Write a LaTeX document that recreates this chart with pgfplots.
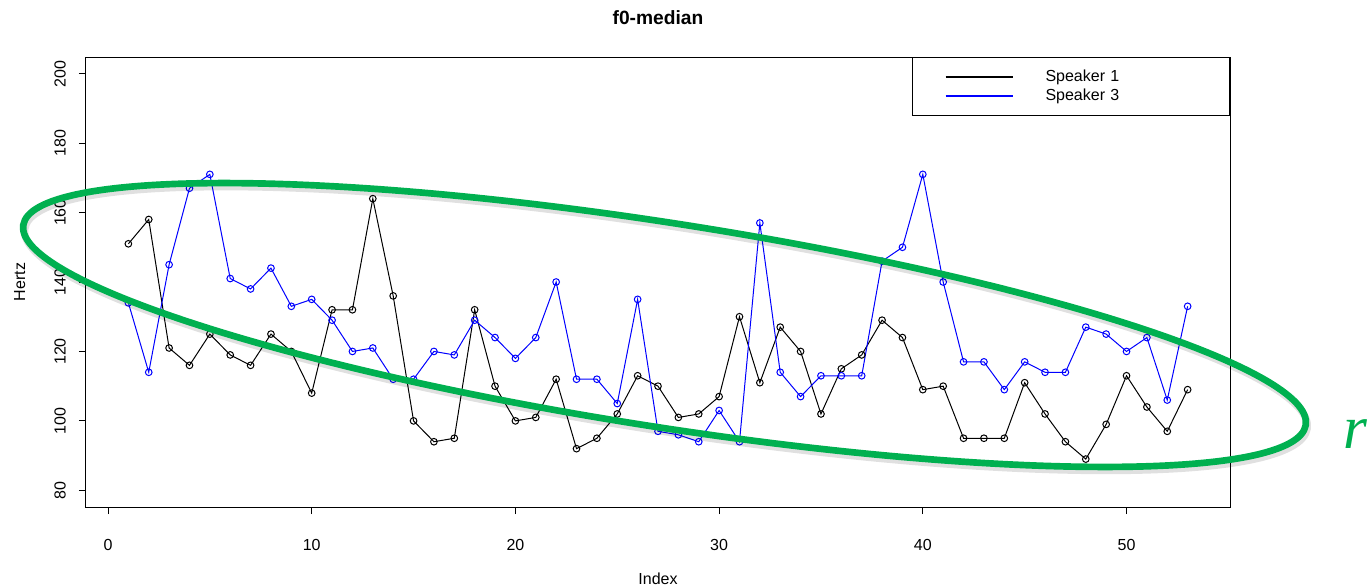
\documentclass[border=0pt]{standalone}
\usepackage{fontspec}
\setmainfont{Liberation Sans}
\newfontfamily\rfont{Liberation Serif}
\usepackage{pgfplots}
\usepackage{pgfplotstable}
\pgfplotsset{compat=1.18}
\definecolor{pptgreen}{RGB}{0,176,80}

\pgfplotstableread{
x s1 s3
1 151 134
2 158 114
3 121 145
4 116 167
5 125 171
6 119 141
7 116 138
8 125 144
9 120 133
10 108 135
11 132 129
12 132 120
13 164 121
14 136 112
15 100 112
16 94 120
17 95 119
18 132 129
19 110 124
20 100 118
21 101 124
22 112 140
23 92 112
24 95 112
25 102 105
26 113 135
27 110 97
28 101 96
29 102 94
30 107 103
31 130 94
32 111 157
33 127 114
34 120 107
35 102 113
36 115 113
37 119 113
38 129 146
39 124 150
40 109 171
41 110 140
42 95 117
43 95 117
44 95 109
45 111 117
46 102 114
47 94 114
48 89 127
49 99 125
50 113 120
51 104 124
52 97 106
53 109 133
}\datatable

\begin{document}
\begin{tikzpicture}
\path[use as bounding box] (0,0) rectangle (1025.25pt,440.25pt);
\begin{axis}[
  at={(64.5pt,60pt)}, anchor=south west,
  scale only axis, width=858pt, height=337.5pt,
  xmin=-1.08, xmax=55.08, ymin=75.2, ymax=204.8,
  xtick={0,10,...,50}, ytick={80,100,...,200},
  tick align=outside, major tick length=5.25pt,
  tick pos=left,
  axis line style={line width=0.75pt},
  every tick/.style={black, line width=0.75pt},
  tick label style={font=\fontsize{12}{14}\selectfont},
  /pgf/number format/assume math mode=true,
  xticklabel style={inner sep=0pt, anchor=north},
  yticklabel style={inner sep=0pt, rotate=90, anchor=south},
  xticklabel shift=18.75pt, yticklabel shift=9.75pt,
  legend style={at={(rel axis cs:1,1)}, anchor=north east, draw=black, fill=white,
    line width=0.75pt, inner xsep=0pt, inner ysep=7.5pt, row sep=0pt,
    font=\fontsize{12}{14.25}\selectfont,
    nodes={inner sep=0pt, text width=138pt, align=left, minimum height=14.25pt, anchor=west, draw=none, fill=none}},
  legend cell align=left,
  legend image code/.code={\path[draw=none,fill=none] (0pt,-7.125pt) rectangle (99.75pt,7.125pt);
    \draw[#1,line width=1.5pt] (24.75pt,0pt) -- (75pt,0pt);},
]
\addplot[black, line width=0.75pt, mark=o, mark size=2.5pt, mark options={solid, line width=0.75pt}]
  table[x=x,y=s1]{\datatable};
\addlegendentry{Speaker 1}
\addplot[blue, line width=0.75pt, mark=o, mark size=2.5pt, mark options={solid, line width=0.75pt}]
  table[x=x,y=s3]{\datatable};
\addlegendentry{Speaker 3}
\end{axis}
\node[font=\bfseries\fontsize{14.4}{16}\selectfont, anchor=base] at (493.5pt,421.5pt) {f0-median};
\node[font=\fontsize{12}{14}\selectfont, anchor=base] at (493.5pt,2.25pt) {Index};
\node[font=\fontsize{12}{14}\selectfont, anchor=base, rotate=90] at (18.75pt,228.75pt) {Hertz};
\begin{scope}[shift={(498.4pt,196.5pt)}, rotate=-8.86]
\draw[black, opacity=0.12, line width=5.5pt] (1.5pt,-2.5pt) ellipse [x radius=486.75pt, y radius=76.5pt];
\draw[pptgreen, line width=5pt] (0,0) ellipse [x radius=486.75pt, y radius=76.5pt];
\end{scope}
\node[anchor=base west, inner sep=0pt, text=pptgreen, font=\rfont\itshape\fontsize{46}{50}\selectfont] at (1007.25pt,104.25pt) {r};
\end{tikzpicture}
\end{document}
